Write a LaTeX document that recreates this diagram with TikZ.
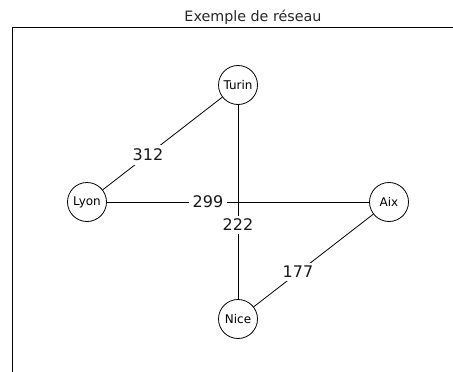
\documentclass[tikz,border=0pt]{standalone}
\usepackage{fontspec}
\setmainfont{DejaVu Sans}
\begin{document}
\begin{tikzpicture}[x=1pt,y=-1pt,
  city/.style={circle,draw,line width=0.8pt,minimum size=39pt,inner sep=0pt,font=\fontsize{12}{13}\selectfont,fill=white},
  edge/.style={line width=0.8pt},
  wt/.style={fill=white,inner sep=3.5pt,font=\fontsize{16}{18}\selectfont,text=black!90}]
\path[use as bounding box] (0,0) rectangle (453,372);
\draw[line width=0.8pt] (12,372) -- (12,27) -- (453,27);
\node[font=\fontsize{14.3}{16}\selectfont,text=black!85] (title) at (253,17) {Exemple de réseau};
\node[city] (turin) at (238,85) {Turin};
\node[city] (lyon) at (87,202) {Lyon};
\node[city] (aix) at (389,202) {Aix};
\node[city] (nice) at (238,319) {Nice};
\draw[edge] (lyon) -- (turin);
\draw[edge] (lyon) -- (aix);
\draw[edge] (turin) -- (nice);
\draw[edge] (aix) -- (nice);
\node[wt] (w1) at (148,155) {312};
\node[wt] (w2) at (208,202) {299};
\node[wt] (w3) at (238,225) {222};
\node[wt] (w4) at (298,272) {177};
\end{tikzpicture}
\end{document}
